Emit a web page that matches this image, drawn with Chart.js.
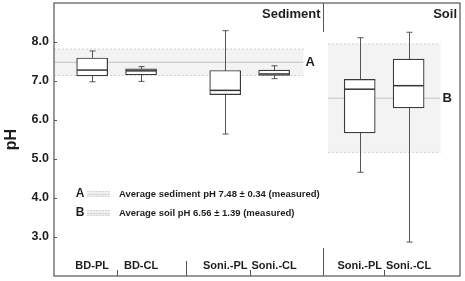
<!DOCTYPE html>
<html>
<head>
<meta charset="utf-8">
<script src="https://cdn.jsdelivr.net/npm/chart.js@4.4.1/dist/chart.umd.min.js"></script>
<style>
  html, body { margin: 0; padding: 0; background: #fff; }
  #wrap { width: 465px; height: 281px; }
</style>
</head>
<body>
<div id="wrap"><canvas id="chart" width="465" height="281"></canvas></div>
<script>
// --- data ---
const categories = ['BD-PL', 'BD-CL', 'Soni.-PL', 'Soni.-CL', 'Soni.-PL', 'Soni.-CL'];
const groups = ['Sediment', 'Soil'];
const pHMin    = [6.98, 6.99, 5.64, 7.06, 4.66, 2.87];
const pHQ1     = [7.13, 7.16, 6.65, 7.14, 5.67, 6.31];
const pHMedian = [7.28, 7.26, 6.76, 7.18, 6.79, 6.88];
const pHQ3     = [7.59, 7.31, 7.27, 7.28, 7.04, 7.56];
const pHMax    = [7.77, 7.37, 8.29, 7.39, 8.11, 8.25];
const yTicks = [3, 4, 5, 6, 7, 8];

const refLabels = ['A', 'B'];
const refMean = [7.48, 6.56];
const refSd = [0.34, 1.39];
const refText = ['Average sediment pH 7.48 \u00b1 0.34 (measured)', 'Average soil pH 6.56 \u00b1 1.39 (measured)'];

// --- layout (x axis units, one unit ~ one box spacing) ---
const PAIR_X = [1.28, 4.0, 6.75];
const GROUP_SPLIT = [2.69, 5.5];      // separators between site groups
const BAND_X = [[0, 5.1], [5.6, 7.9]];
const xPos = i => PAIR_X[Math.floor(i / 2)] + (i % 2 ? 0.5 : -0.5);

const FONT = "'Liberation Sans', Arial, sans-serif";
const INK = '#1e1e1e';

function line(ctx, x1, y1, x2, y2) {
    ctx.beginPath();
    ctx.moveTo(x1, y1);
    ctx.lineTo(x2, y2);
    ctx.stroke();
}

// bands + whiskers under the boxes, everything else on top
const boxPlot = {
    id: 'boxPlot',
    beforeDatasetsDraw(chart) {
        const { ctx, scales: { x, y } } = chart;
        ctx.save();
        refMean.forEach((m, k) => {
            const x1 = x.getPixelForValue(BAND_X[k][0]);
            const x2 = x.getPixelForValue(BAND_X[k][1]);
            const yt = y.getPixelForValue(m + refSd[k]);
            const yb = y.getPixelForValue(m - refSd[k]);
            ctx.fillStyle = '#f3f3f3';
            ctx.fillRect(x1, yt, x2 - x1, yb - yt);
            ctx.strokeStyle = '#cfcfcf';
            ctx.lineWidth = 1;
            ctx.setLineDash([2, 2]);
            line(ctx, x1, yt, x2, yt);
            line(ctx, x1, yb, x2, yb);
            ctx.setLineDash([]);
            ctx.strokeStyle = '#c4c4c4';
            const ym = y.getPixelForValue(m);
            line(ctx, x1, ym, x2, ym);
            ctx.fillStyle = INK;
            ctx.font = 'bold 13px ' + FONT;
            ctx.textAlign = 'left';
            ctx.textBaseline = 'middle';
            ctx.fillText(refLabels[k], x2 + 2, ym);
        });

        ctx.strokeStyle = '#555';
        ctx.lineWidth = 1;
        categories.forEach((c, i) => {
            const cx = Math.round(x.getPixelForValue(xPos(i))) + 0.5;
            const top = y.getPixelForValue(pHMax[i]);
            const bot = y.getPixelForValue(pHMin[i]);
            line(ctx, cx, top, cx, bot);
            line(ctx, cx - 3, top, cx + 3, top);
            line(ctx, cx - 3, bot, cx + 3, bot);
        });
        ctx.restore();
    },
    afterDatasetsDraw(chart) {
        const { ctx, chartArea: a, scales: { x, y } } = chart;
        ctx.save();

        // medians
        ctx.strokeStyle = '#333';
        ctx.lineWidth = 1.5;
        categories.forEach((c, i) => {
            const cx = x.getPixelForValue(xPos(i));
            const ym = y.getPixelForValue(pHMedian[i]);
            line(ctx, cx - 15, ym, cx + 15, ym);
        });

        // frame
        ctx.strokeStyle = '#555';
        ctx.lineWidth = 1.2;
        ctx.strokeRect(a.left, a.top, a.right - a.left, a.bottom - a.top);

        // inner y ticks
        ctx.lineWidth = 1;
        yTicks.forEach(v => {
            const yy = Math.round(y.getPixelForValue(v)) + 0.5;
            line(ctx, a.left, yy, a.left + 3, yy);
        });

        // sediment / soil divider and site separators
        const sx = Math.round(x.getPixelForValue(GROUP_SPLIT[1])) + 0.5;
        line(ctx, sx, a.top, sx, a.top + 29);
        line(ctx, sx, a.bottom - 28, sx, a.bottom);
        const gx = Math.round(x.getPixelForValue(GROUP_SPLIT[0])) + 0.5;
        line(ctx, gx, a.bottom - 15, gx, a.bottom);
        PAIR_X.forEach(p => {
            const px = Math.round(x.getPixelForValue(p)) + 0.5;
            line(ctx, px, a.bottom - 6, px, a.bottom);
        });

        ctx.fillStyle = INK;
        ctx.font = 'bold 13px ' + FONT;
        ctx.textAlign = 'right';
        ctx.textBaseline = 'alphabetic';
        ctx.fillText(groups[0], sx - 3, a.top + 15);
        ctx.fillText(groups[1], a.right - 3, a.top + 15);

        // category names
        ctx.font = 'bold 11px ' + FONT;
        ctx.textAlign = 'center';
        categories.forEach((c, i) => {
            ctx.fillText(c, x.getPixelForValue(xPos(i)), a.bottom - 7);
        });

        // legend
        refLabels.forEach((lab, k) => {
            const ly = a.top + 191 + k * 19;
            ctx.fillStyle = INK;
            ctx.font = 'bold 12px ' + FONT;
            ctx.textAlign = 'center';
            ctx.textBaseline = 'middle';
            ctx.fillText(lab, a.left + 26, ly);
            const sx0 = a.left + 33, sw = 23;
            ctx.fillStyle = '#f0f0f0';
            ctx.fillRect(sx0, ly - 3, sw, 6);
            ctx.strokeStyle = '#d6d6d6';
            ctx.setLineDash([2, 1]);
            line(ctx, sx0, ly - 2.5, sx0 + sw, ly - 2.5);
            line(ctx, sx0, ly + 2.5, sx0 + sw, ly + 2.5);
            ctx.setLineDash([]);
            line(ctx, sx0, ly + 0.5, sx0 + sw, ly + 0.5);
            ctx.fillStyle = INK;
            ctx.font = 'bold 9.5px ' + FONT;
            ctx.textAlign = 'left';
            ctx.fillText(refText[k], a.left + 65, ly);
        });
        ctx.restore();
    }
};

new Chart(document.getElementById('chart'), {
    type: 'bar',
    data: {
        datasets: [{
            data: categories.map((c, i) => ({ x: xPos(i), y: [pHQ1[i], pHQ3[i]] })),
            backgroundColor: '#fff',
            borderColor: '#3a3a3a',
            borderWidth: 1.2,
            borderSkipped: false,
            barThickness: 31
        }]
    },
    options: {
        responsive: false,
        animation: false,
        layout: { padding: { top: 3, right: 5, bottom: 0, left: 0 } },
        plugins: { legend: { display: false }, tooltip: { enabled: false } },
        scales: {
            x: {
                type: 'linear', min: 0, max: 8.3, offset: false,
                ticks: { display: false },
                grid: { display: false, drawTicks: false },
                border: { display: false },
                afterFit: s => {
                    s.height = 5;
                    s.paddingLeft = 0; s.paddingRight = 0;
                }
            },
            y: {
                min: 2, max: 9,
                grid: { display: false, drawTicks: false },
                border: { display: false },
                ticks: {
                    stepSize: 1, padding: 5, color: INK,
                    font: { family: FONT, size: 12.5, weight: 'bold' },
                    callback: v => yTicks.includes(v) ? v.toFixed(1) : ''
                },
                title: {
                    display: true, text: 'pH', color: INK,
                    padding: { top: 2, bottom: 0 },
                    font: { family: FONT, size: 16, weight: 'bold' }
                },
                afterFit: s => {
                    s.width = 54;
                    s.paddingTop = 0; s.paddingBottom = 0;
                }
            }
        }
    },
    plugins: [boxPlot]
});
</script>
</body>
</html>
